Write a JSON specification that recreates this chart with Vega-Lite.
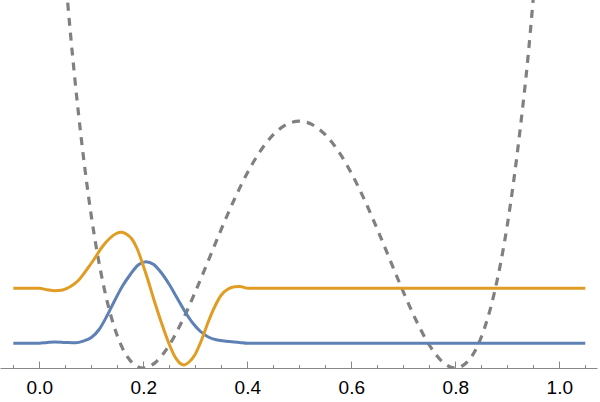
{
  "$schema": "https://vega.github.io/schema/vega-lite/v6.json",
  "width": 597,
  "height": 368,
  "autosize": "none",
  "padding": {"left": 0, "top": 0, "right": 3, "bottom": 34},
  "background": "white",
  "config": {"view": {"stroke": null}},
  "datasets": {
    "potential": [
      {"x": 0.04, "v": 455}, {"x": 0.05, "v": 393}, {"x": 0.06, "v": 334}, {"x": 0.075, "v": 256},
      {"x": 0.1, "v": 152}, {"x": 0.125, "v": 79}, {"x": 0.15, "v": 32.2}, {"x": 0.175, "v": 7.4},
      {"x": 0.2, "v": 0}, {"x": 0.225, "v": 6.3}, {"x": 0.25, "v": 23.0}, {"x": 0.275, "v": 47.2},
      {"x": 0.3, "v": 76.2}, {"x": 0.325, "v": 107.4}, {"x": 0.35, "v": 138.8}, {"x": 0.375, "v": 168.5},
      {"x": 0.4, "v": 195.0}, {"x": 0.425, "v": 216.9}, {"x": 0.45, "v": 233.3}, {"x": 0.475, "v": 243.4},
      {"x": 0.5, "v": 246.8}, {"x": 0.525, "v": 243.4}, {"x": 0.55, "v": 233.3}, {"x": 0.575, "v": 216.9},
      {"x": 0.6, "v": 195.0}, {"x": 0.625, "v": 168.5}, {"x": 0.65, "v": 138.8}, {"x": 0.675, "v": 107.4},
      {"x": 0.7, "v": 76.2}, {"x": 0.725, "v": 47.2}, {"x": 0.75, "v": 23.0}, {"x": 0.775, "v": 6.3},
      {"x": 0.8, "v": 0}, {"x": 0.825, "v": 7.2}, {"x": 0.85, "v": 31}, {"x": 0.875, "v": 75},
      {"x": 0.9, "v": 143}, {"x": 0.925, "v": 240}, {"x": 0.94, "v": 312}, {"x": 0.95, "v": 370},
      {"x": 0.96, "v": 430}
    ],
    "ground": [
      {"x": -0.05, "v": 24.7}, {"x": 0.0, "v": 24.7}, {"x": 0.015, "v": 25.5}, {"x": 0.03, "v": 26.1},
      {"x": 0.05, "v": 25.6}, {"x": 0.07, "v": 25.2}, {"x": 0.085, "v": 27}, {"x": 0.1, "v": 30.5},
      {"x": 0.115, "v": 38.5}, {"x": 0.13, "v": 52}, {"x": 0.145, "v": 67.5}, {"x": 0.16, "v": 82},
      {"x": 0.175, "v": 93.5}, {"x": 0.19, "v": 103}, {"x": 0.205, "v": 106.3}, {"x": 0.22, "v": 103.5},
      {"x": 0.235, "v": 95}, {"x": 0.25, "v": 83.5}, {"x": 0.265, "v": 70}, {"x": 0.28, "v": 56.5},
      {"x": 0.295, "v": 45}, {"x": 0.31, "v": 36.5}, {"x": 0.325, "v": 31}, {"x": 0.34, "v": 28.2},
      {"x": 0.355, "v": 27}, {"x": 0.37, "v": 26.3}, {"x": 0.385, "v": 25.6}, {"x": 0.4, "v": 24.7},
      {"x": 1.05, "v": 24.7}
    ],
    "excited": [
      {"x": -0.05, "v": 79.7}, {"x": 0.0, "v": 79.7}, {"x": 0.015, "v": 78.2}, {"x": 0.03, "v": 77.2},
      {"x": 0.045, "v": 78}, {"x": 0.06, "v": 81.5}, {"x": 0.075, "v": 87.5}, {"x": 0.09, "v": 97.5},
      {"x": 0.105, "v": 108.5}, {"x": 0.12, "v": 120.5}, {"x": 0.135, "v": 129.5}, {"x": 0.148, "v": 134.5},
      {"x": 0.158, "v": 135.7}, {"x": 0.168, "v": 133.8}, {"x": 0.178, "v": 129}, {"x": 0.188, "v": 119.5},
      {"x": 0.198, "v": 105.3}, {"x": 0.208, "v": 89.5}, {"x": 0.22, "v": 69}, {"x": 0.235, "v": 45},
      {"x": 0.25, "v": 23.5}, {"x": 0.26, "v": 12}, {"x": 0.27, "v": 5}, {"x": 0.278, "v": 3},
      {"x": 0.288, "v": 6}, {"x": 0.299, "v": 13}, {"x": 0.312, "v": 28}, {"x": 0.325, "v": 46.3},
      {"x": 0.338, "v": 62}, {"x": 0.35, "v": 73}, {"x": 0.363, "v": 79}, {"x": 0.376, "v": 81.3},
      {"x": 0.386, "v": 81.5}, {"x": 0.395, "v": 80.3}, {"x": 0.4, "v": 79.7}, {"x": 1.05, "v": 79.7}
    ]
  },
  "layer": [
    {
      "data": {"name": "potential"},
      "mark": {"type": "line", "color": "#808080", "strokeWidth": 3.2, "strokeDash": [8, 7], "clip": true, "interpolate": "monotone"},
      "encoding": {
        "x": {"field": "x", "type": "quantitative",
          "scale": {"domain": [-0.0756, 1.0725], "nice": false, "zero": false},
          "axis": {"orient": "bottom", "values": [0, 0.2, 0.4, 0.6, 0.8, 1.0], "format": ".1f", "tickSize": -7, "tickColor": "#888888",
            "tickWidth": 1, "domainColor": "#888888", "domainWidth": 1, "labelPadding": 32.5,
            "labelBaseline": "alphabetic", "labelFont": "Liberation Sans", "labelFontSize": 19,
            "labelColor": "#000000", "grid": false, "title": null, "labelFlush": false, "labelOverlap": false}},
        "y": {"field": "v", "type": "quantitative", "scale": {"domain": [0, 368], "nice": false, "zero": false}, "axis": null}
      }
    },
    {
      "data": {"name": "ground"},
      "mark": {"type": "line", "color": "#5E81B5", "strokeWidth": 3, "clip": true, "interpolate": "monotone"},
      "encoding": {
        "x": {"field": "x", "type": "quantitative",
          "axis": {"orient": "bottom", "values": [-0.05, 0.05, 0.1, 0.15, 0.25, 0.3, 0.35, 0.45, 0.5, 0.55, 0.65, 0.7, 0.75, 0.85, 0.9, 0.95, 1.05],
            "tickSize": -3.5, "tickColor": "#888888", "tickWidth": 1, "labels": false, "domain": false, "grid": false, "title": null}},
        "y": {"field": "v", "type": "quantitative", "axis": null}
      }
    },
    {
      "data": {"name": "excited"},
      "mark": {"type": "line", "color": "#E19C24", "strokeWidth": 3, "clip": true, "interpolate": "monotone"},
      "encoding": {
        "x": {"field": "x", "type": "quantitative", "axis": null},
        "y": {"field": "v", "type": "quantitative", "axis": null}
      }
    }
  ],
  "resolve": {"axis": {"x": "independent"}}
}
